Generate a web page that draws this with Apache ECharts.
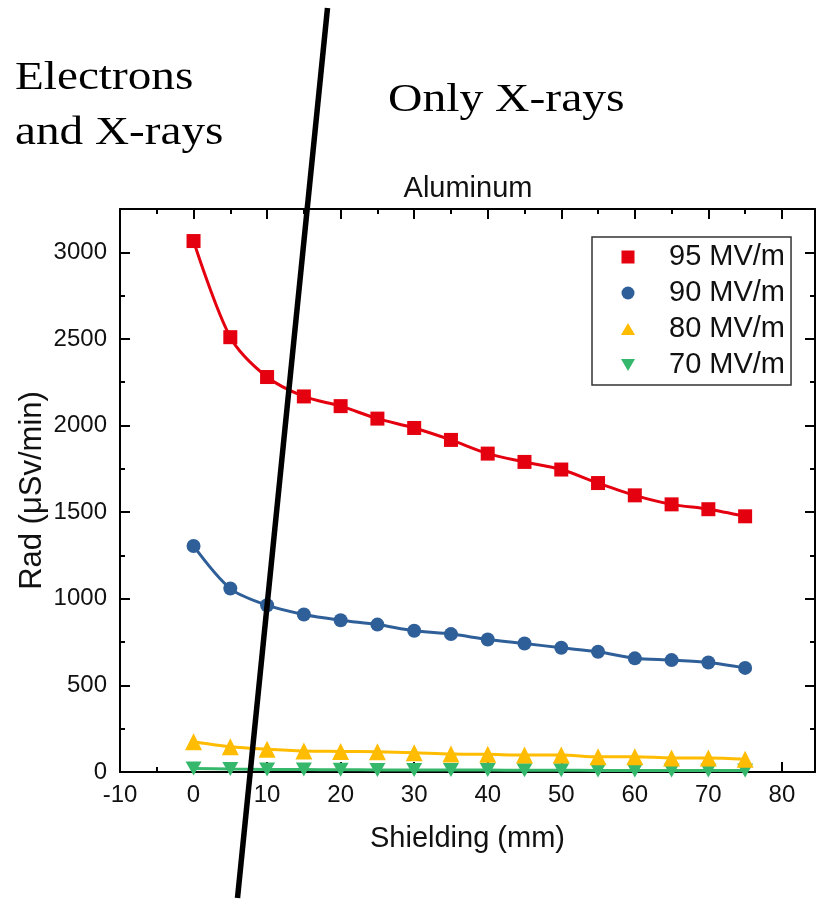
<!DOCTYPE html>
<html>
<head>
<meta charset="utf-8">
<script src="https://cdn.jsdelivr.net/npm/echarts@6/dist/echarts.min.js"></script>
<style>
html,body{margin:0;padding:0;background:#fff;}
#chart{width:818px;height:900px;}
</style>
</head>
<body>
<div id="chart"></div>
<script>
// ---- data ----
const shielding = [0, 5, 10, 15, 20, 25, 30, 35, 40, 45, 50, 55, 60, 65, 70, 75];
const seriesNames = ['95 MV/m', '90 MV/m', '80 MV/m', '70 MV/m'];
const rad95 = [3065, 2510, 2280, 2168, 2112, 2040, 1986, 1917, 1838, 1790, 1746, 1668, 1597, 1545, 1517, 1476];
const rad90 = [1305, 1059, 963, 909, 876, 851, 815, 796, 765, 742, 717, 694, 656, 646, 632, 601];
const rad80 = [175, 146, 131, 121, 119, 117, 111, 104, 102, 98, 98, 88, 88, 81, 81, 73];
const rad70 = [20, 17, 15, 14, 13, 12, 12, 11, 11, 10, 10, 9, 9, 9, 8, 8];
const xTicks = [-10, 0, 10, 20, 30, 40, 50, 60, 70, 80];
const yTicks = [0, 500, 1000, 1500, 2000, 2500, 3000];
const chartTitle = 'Aluminum';
const xName = 'Shielding (mm)';
const yName = 'Rad (\u03bcSv/min)';
const leftNote = ['Electrons', 'and X-rays'];
const rightNote = 'Only X-rays';

// ---- styles ----
const colors = ['#e4000f', '#2f5f98', '#ffbc00', '#36b86c'];
const symbols = ['rect', 'circle', 'triangle', 'path://M0,0L10,0L5,9Z'];
const legendIcons = [
  'path://M0,0L10,0L10,10L0,10Z',
  'path://M5,0A5,5,0,1,1,5,10A5,5,0,1,1,5,0Z',
  'path://M5,0L10,8.7L0,8.7Z',
  'path://M0,0L10,0L5,8.7Z'
];
const symbolSizes = [14, 14, 17, [16, 14]];
const sans = '"Liberation Sans", Arial, sans-serif';
const serif = '"Liberation Serif", "Times New Roman", serif';

const X_MIN = -10, X_MAX = 84.5, Y_MIN = 0, Y_MAX = 3250;

function pairs(xs, ys) { return xs.map((x, i) => [x, ys[i]]); }
const allData = [rad95, rad90, rad80, rad70];

function xAxisDef(pos, interval, len, labels, line) {
  return {
    type: 'value', position: pos, min: X_MIN, max: X_MAX, interval: interval,
    axisLine: { show: line, onZero: false, lineStyle: { color: '#000', width: 2 } },
    axisTick: { show: true, inside: true, length: len, lineStyle: { color: '#000', width: 2 } },
    axisLabel: labels ? {
      show: true, fontSize: 24, fontFamily: sans, color: '#111', margin: 11,
      showMaxLabel: false,
      formatter: v => (xTicks.indexOf(v) >= 0 ? String(v) : '')
    } : { show: false },
    splitLine: { show: false },
    minorTick: { show: false }
  };
}
function yAxisDef(pos, interval, len, labels, line) {
  return {
    type: 'value', position: pos, min: Y_MIN, max: Y_MAX, interval: interval,
    axisLine: { show: line, onZero: false, lineStyle: { color: '#000', width: 2 } },
    axisTick: { show: true, inside: true, length: len, lineStyle: { color: '#000', width: 2 } },
    axisLabel: labels ? {
      show: true, fontSize: 24, fontFamily: sans, color: '#111', margin: 13,
      showMaxLabel: false,
      formatter: v => (yTicks.indexOf(v) >= 0 ? String(v) : '')
    } : { show: false },
    splitLine: { show: false },
    minorTick: { show: false }
  };
}

const xAxes = [
  xAxisDef('bottom', 10, 10, true, true),
  xAxisDef('bottom', 5, 5, false, false),
  xAxisDef('top', 10, 10, false, true),
  xAxisDef('top', 5, 5, false, false)
];
Object.assign(xAxes[0], {
  name: xName, nameLocation: 'middle', nameGap: 52, nameMoveOverlap: false,
  nameTextStyle: { fontSize: 29, fontFamily: sans, color: '#111' }
});
const yAxes = [
  yAxisDef('left', 500, 10, true, true),
  yAxisDef('left', 250, 5, false, false),
  yAxisDef('right', 500, 10, false, true),
  yAxisDef('right', 250, 5, false, false)
];
Object.assign(yAxes[0], {
  name: yName, nameLocation: 'middle', nameGap: 72, nameRotate: 90, nameMoveOverlap: false,
  nameTextStyle: { fontSize: 31, fontFamily: sans, color: '#111' }
});

const series = seriesNames.map((name, i) => ({
  name: name,
  type: 'line',
  xAxisIndex: 0, yAxisIndex: 0,
  data: pairs(shielding, allData[i]),
  smooth: 0.3,
  symbol: symbols[i],
  symbolSize: symbolSizes[i],
  showAllSymbol: true,
  itemStyle: { color: colors[i] },
  lineStyle: { color: colors[i], width: 3 },
  emphasis: { disabled: true },
  z: 10 - i
}));

const chart = echarts.init(document.getElementById('chart'), null, { renderer: 'canvas' });
chart.setOption({
  animation: false,
  backgroundColor: '#fff',
  grid: { left: 120, right: 3, top: 209, bottom: 128, containLabel: false },
  title: {
    text: chartTitle, left: 468, top: 174, textAlign: 'center',
    textStyle: { fontSize: 29, fontWeight: 'normal', fontFamily: sans, color: '#111' },
    padding: 0
  },
  legend: {
    orient: 'vertical', left: 592, top: 237,
    padding: [4, 6, 4, 29],
    itemWidth: 14, itemHeight: 13, itemGap: 4,
    borderColor: '#333', borderWidth: 1.5,
    selectedMode: false,
    textStyle: { fontSize: 29, fontFamily: sans, color: '#111', lineHeight: 32, padding: [0, 0, 0, 29] },
    data: seriesNames.map((n, i) => ({ name: n, icon: legendIcons[i] }))
  },
  xAxis: xAxes,
  yAxis: yAxes,
  series: series,
  graphic: [
    {
      type: 'text', x: 15, y: 78, scaleX: 1.18, z: 50,
      style: { text: leftNote[0], x: 0, y: 0, font: '40px ' + serif, fill: '#000', align: 'left', verticalAlign: 'middle' }
    },
    {
      type: 'text', x: 15, y: 133, scaleX: 1.18, z: 50,
      style: { text: leftNote[1], x: 0, y: 0, font: '40px ' + serif, fill: '#000', align: 'left', verticalAlign: 'middle' }
    },
    {
      type: 'text', x: 388, y: 100, scaleX: 1.19, z: 50,
      style: { text: rightNote, x: 0, y: 0, font: '40px ' + serif, fill: '#000', align: 'left', verticalAlign: 'middle' }
    },
    {
      type: 'line', z: 100,
      shape: { x1: 327.5, y1: 8, x2: 237.5, y2: 898 },
      style: { stroke: '#000', lineWidth: 5.5 }
    }
  ]
});
</script>
</body>
</html>
